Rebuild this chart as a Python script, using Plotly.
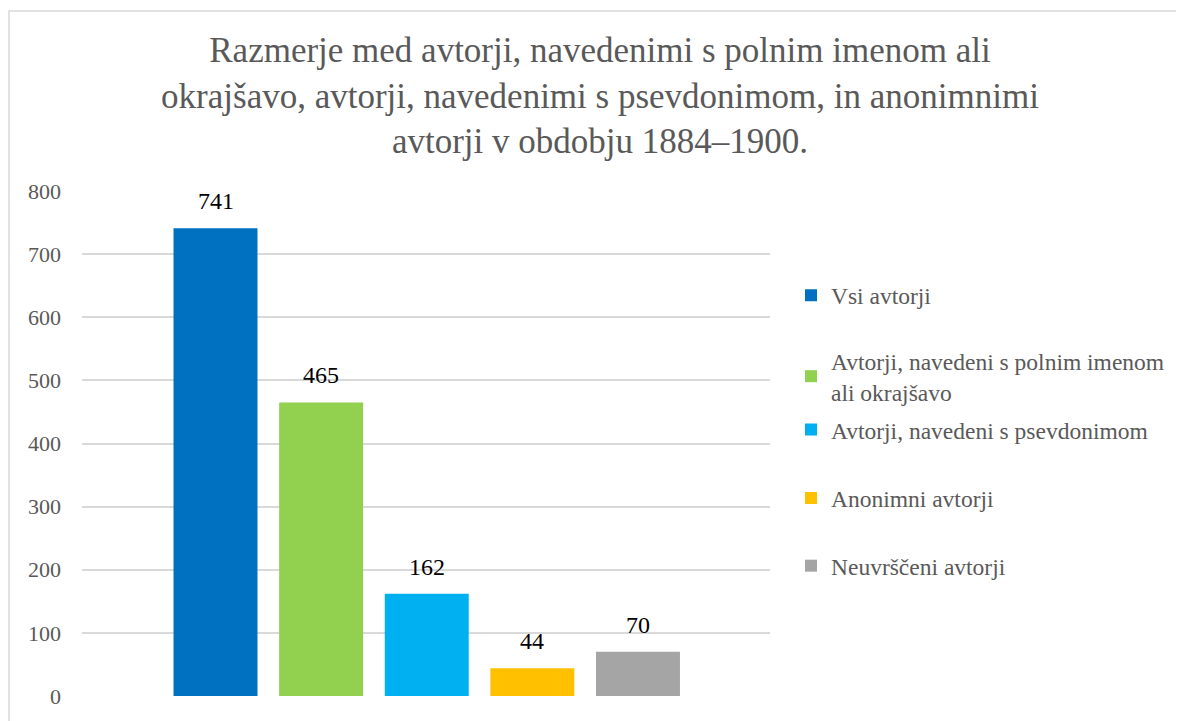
import plotly.graph_objects as go

series = ["Vsi avtorji",
          "Avtorji, navedeni s polnim imenom<br>ali okrajšavo",
          "Avtorji, navedeni s psevdonimom",
          "Anonimni avtorji",
          "Neuvrščeni avtorji"]
values = [741, 465, 162, 44, 70]
colors = ["#0070C0", "#92D050", "#00B0F0", "#FFC000", "#A5A5A5"]
y_ticks = [0, 100, 200, 300, 400, 500, 600, 700, 800]

title = ("Razmerje med avtorji, navedenimi s polnim imenom ali<br>"
         "okrajšavo, avtorji, navedenimi s psevdonimom, in anonimnimi<br>"
         "avtorji v obdobju 1884–1900.")

SERIF = "Liberation Serif"
GRAY = "#595959"

W, H = 1176, 713          # page body has an 8px margin
L, R, T, B = 74, 414, 183, 22
PW, PH = W - L - R, H - T - B

# legend item top positions, in figure pixels
legend_tops = [266, 332, 401, 470, 538]

fig = go.Figure()
legend_layouts = {}
for i, (name, v, c) in enumerate(zip(series, values, colors)):
    lname = "legend" if i == 0 else f"legend{i + 1}"
    fig.add_trace(go.Bar(
        x=[i], y=[v], name=name, marker=dict(color=c, line=dict(width=0)),
        width=0.795, legend=lname, showlegend=True, hoverinfo="skip",
    ))
    legend_layouts[lname] = dict(
        x=(783 - L) / PW, xanchor="left",
        y=(H - B - legend_tops[i]) / PH, yanchor="top",
        itemwidth=30, font=dict(family=SERIF, size=23.5, color=GRAY),
        bgcolor="rgba(0,0,0,0)", borderwidth=0)
    fig.add_annotation(x=i, y=v, text=str(v), showarrow=False,
                       yanchor="bottom", yshift=12,
                       font=dict(family=SERIF, size=24, color="#000000"))

fig.update_layout(
    width=W, height=H,
    margin=dict(l=L, r=R, t=T, b=B),
    paper_bgcolor="white", plot_bgcolor="white",
    barmode="overlay",
    title=dict(text=title, x=592 / W, xanchor="center", xref="container",
               y=1 - 54 / H, yanchor="top", yref="container",
               font=dict(family=SERIF, size=35, color=GRAY)),
    xaxis=dict(range=[-1.264, 5.25], showticklabels=False, showgrid=False,
               zeroline=False, showline=False, ticks=""),
    yaxis=dict(range=[0, 800], tickvals=y_ticks, showgrid=True,
               gridcolor="#D9D9D9", gridwidth=1.5, zeroline=False,
               showline=False, ticks="", ticklabelstandoff=20,
               tickfont=dict(family=SERIF, size=22, color=GRAY)),
    showlegend=True,
    shapes=[dict(type="rect", xref="paper", yref="paper",
                 x0=(1 - L) / PW, x1=(W + 20 - L) / PW,
                 y0=-(B + 20) / PH, y1=(H - B - 2) / PH,
                 line=dict(color="#D9D9D9", width=1.5), layer="below")],
    **legend_layouts,
)

fig.write_html("out.html")
